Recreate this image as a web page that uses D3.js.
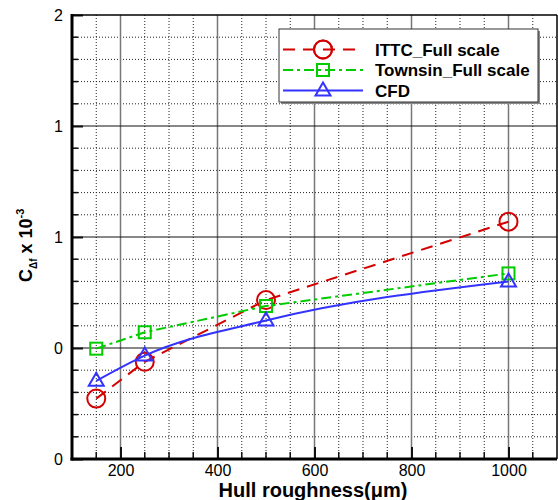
<!DOCTYPE html>
<html>
<head>
<meta charset="utf-8">
<script src="https://cdn.jsdelivr.net/npm/d3@7"></script>
<style>
  body { margin: 0; background: #fff; }
  svg { font-family: "Liberation Sans", Arial, sans-serif; }
</style>
</head>
<body>
<svg id="chart" width="558" height="500"></svg>
<script>
// data
var roughness = [150, 250, 500, 1000];
var ittc = [0.272, 0.438, 0.716, 1.069];
var townsin = [0.497, 0.571, 0.689, 0.836];
var cfd = [0.352, 0.466, 0.624, 0.800];
var seriesNames = ["ITTC_Full scale", "Townsin_Full scale", "CFD"];

var xTicks = [200, 400, 600, 800, 1000];
var yTicks = [0, 0.5, 1, 1.5, 2];
var yTickLabels = ["0", "0", "1", "1", "2"];

var margin = { top: 15, right: 1, bottom: 41, left: 72 },
    width = 558 - margin.left - margin.right,
    height = 500 - margin.top - margin.bottom;

var svg = d3.select("#chart");
var g = svg.append("g").attr("transform", "translate(" + margin.left + "," + margin.top + ")");

var x = d3.scaleLinear().domain([100, 1100]).range([0, width]);
var y = d3.scaleLinear().domain([0, 2]).range([height, 0]);

var xMinor = d3.range(150, 1100, 50).filter(function(d) { return d % 200 !== 0; });
var yMinor = d3.range(1, 20).map(function(d) { return d / 10; }).filter(function(d) { return Math.round(d * 10) % 5 !== 0; });

// grid
var grid = g.append("g");
grid.selectAll(".vminor").data(xMinor).join("line")
    .attr("x1", d => x(d)).attr("x2", d => x(d)).attr("y1", 0).attr("y2", height)
    .attr("stroke", "#222").attr("stroke-width", 1).attr("stroke-dasharray", "1,2");
grid.selectAll(".hminor").data(yMinor).join("line")
    .attr("x1", 0).attr("x2", width).attr("y1", d => y(d)).attr("y2", d => y(d))
    .attr("stroke", "#222").attr("stroke-width", 1).attr("stroke-dasharray", "1,2");
grid.selectAll(".vmajor").data(xTicks).join("line")
    .attr("x1", d => x(d)).attr("x2", d => x(d)).attr("y1", 0).attr("y2", height)
    .attr("stroke", "#777").attr("stroke-width", 1.5);
grid.selectAll(".hmajor").data(yTicks.slice(1, -1)).join("line")
    .attr("x1", 0).attr("x2", width).attr("y1", d => y(d)).attr("y2", d => y(d))
    .attr("stroke", "#111").attr("stroke-width", 1);

// axes
var xAxis = d3.axisBottom(x).tickValues(xTicks).tickSize(-12).tickPadding(6).tickFormat(d3.format("d"));
var yAxis = d3.axisLeft(y).tickValues(yTicks).tickSize(-11).tickPadding(9)
    .tickFormat(function(d, i) { return yTickLabels[i]; });

var xg = g.append("g").attr("transform", "translate(0," + height + ")").call(xAxis);
var yg = g.append("g").call(yAxis);
[xg, yg].forEach(function(a) {
  a.select(".domain").remove();
  a.selectAll(".tick line").attr("stroke", "#111").attr("stroke-width", 2);
  a.selectAll(".tick text").attr("font-size", 16).attr("fill", "#000")
    .attr("font-family", "'Liberation Sans', Arial, sans-serif");
});

// minor ticks
g.append("g").selectAll("line").data(xMinor).join("line")
    .attr("x1", d => x(d)).attr("x2", d => x(d)).attr("y1", height).attr("y2", height - 7)
    .attr("stroke", "#111").attr("stroke-width", 1.5);
g.append("g").selectAll("line").data(yMinor).join("line")
    .attr("x1", 0).attr("x2", 6).attr("y1", d => y(d)).attr("y2", d => y(d))
    .attr("stroke", "#111").attr("stroke-width", 1.5);

// frame
g.append("line").attr("x1", 0).attr("x2", width).attr("y1", 0).attr("y2", 0).attr("stroke", "#000").attr("stroke-width", 1.5);
g.append("line").attr("x1", width).attr("x2", width).attr("y1", 0).attr("y2", height).attr("stroke", "#000").attr("stroke-width", 1.5);
g.append("line").attr("x1", 0).attr("x2", 0).attr("y1", -1).attr("y2", height + 1.5).attr("stroke", "#000").attr("stroke-width", 3);
g.append("line").attr("x1", -1.5).attr("x2", width).attr("y1", height).attr("y2", height).attr("stroke", "#000").attr("stroke-width", 3);

// series
var series = [
  { name: seriesNames[0], values: ittc, color: "#d40000", dash: "12,8", marker: "circle", curve: d3.curveLinear },
  { name: seriesNames[1], values: townsin, color: "#00cc00", dash: "10,4,3,4", marker: "square", curve: d3.curveLinear },
  { name: seriesNames[2], values: cfd, color: "#3333ff", dash: null, marker: "triangle", curve: d3.curveMonotoneX }
];

function drawMarker(sel, type, color) {
  if (type === "circle") {
    sel.append("circle").attr("r", 9);
  } else if (type === "square") {
    sel.append("rect").attr("x", -6).attr("y", -6).attr("width", 12).attr("height", 12);
  } else {
    sel.append("path").attr("d", "M0,-8L7.5,5L-7.5,5Z");
  }
  sel.selectAll("circle,rect,path").attr("fill", "none").attr("stroke", color).attr("stroke-width", 2);
}

var plot = g.append("g");
series.forEach(function(s) {
  var pts = roughness.map(function(r, i) { return [r, s.values[i]]; });
  var line = d3.line().x(d => x(d[0])).y(d => y(d[1])).curve(s.curve);
  plot.append("path").datum(pts)
      .attr("d", line)
      .attr("fill", "none")
      .attr("stroke", s.color)
      .attr("stroke-width", 2)
      .attr("stroke-dasharray", s.dash);
  plot.append("g").selectAll("g").data(pts).join("g")
      .attr("transform", d => "translate(" + x(d[0]) + "," + y(d[1]) + ")")
      .each(function() { drawMarker(d3.select(this), s.marker, s.color); });
});

// legend
var lg = svg.append("g").attr("transform", "translate(279,29)");
lg.append("rect").attr("x", 2).attr("y", 2).attr("width", 259).attr("height", 73).attr("fill", "#888");
lg.append("rect").attr("width", 259).attr("height", 73).attr("fill", "#fff").attr("stroke", "#333").attr("stroke-width", 1);
series.forEach(function(s, i) {
  var ry = 20.5 + i * 20.5;
  lg.append("line").attr("x1", 4).attr("x2", 84).attr("y1", ry).attr("y2", ry)
      .attr("stroke", s.color).attr("stroke-width", 2).attr("stroke-dasharray", s.dash);
  var m = lg.append("g").attr("transform", "translate(44," + ry + ")");
  if (s.marker === "circle") m.append("circle").attr("r", 9).attr("fill", "#fff");
  drawMarker(m, s.marker, s.color);
  lg.append("text").attr("x", 96).attr("y", ry + 6).attr("font-size", 17).attr("font-weight", "bold")
      .text(s.name);
});

// axis titles
svg.append("text").attr("x", 313).attr("y", 497).attr("text-anchor", "middle")
    .attr("font-size", 20).attr("font-weight", "bold")
    .text("Hull roughness(μm)");

var yt = svg.append("text").attr("transform", "translate(32,282) rotate(-90)")
    .attr("font-size", 18).attr("font-weight", "bold");
yt.append("tspan").text("C");
yt.append("tspan").attr("font-size", 10).attr("dy", 5).text("Δf");
yt.append("tspan").attr("dy", -5).attr("dx", 5).text("x 10");
yt.append("tspan").attr("font-size", 11).attr("dy", -8).text("-3");
</script>
</body>
</html>
